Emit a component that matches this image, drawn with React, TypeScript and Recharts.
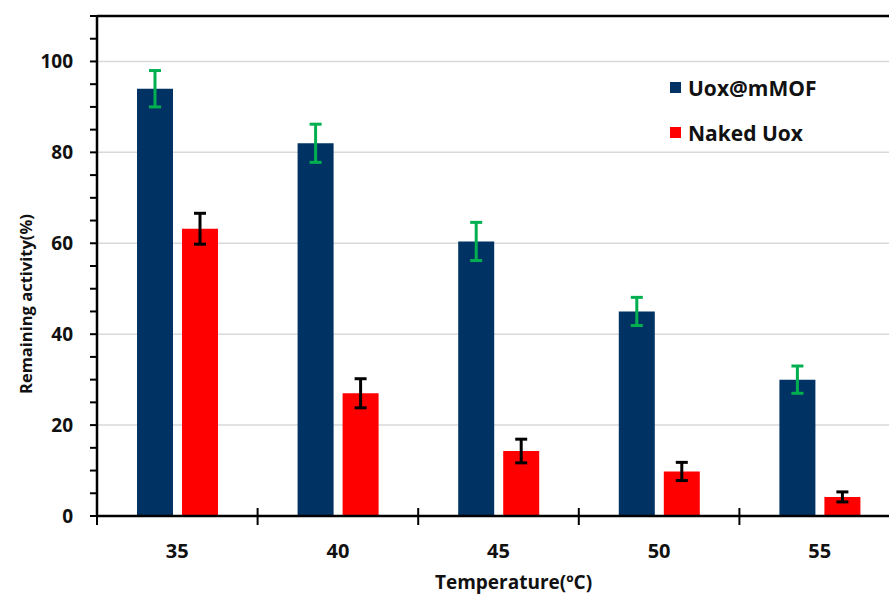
import React from 'react';
import { BarChart, Bar, XAxis, YAxis, ErrorBar, ReferenceLine, CartesianGrid } from 'recharts';

const temperatures = ['35', '40', '45', '50', '55'];
const mofValues = [94, 82, 60.4, 45, 30];
const mofErrors = [4, 4.2, 4.2, 3.1, 3];
const nakedValues = [63.2, 27, 14.3, 9.8, 4.2];
const nakedErrors = [3.4, 3.2, 2.6, 2, 1.1];
const yTicks = [0, 5, 10, 15, 20, 25, 30, 35, 40, 45, 50, 55, 60, 65, 70, 75, 80, 85, 90, 95, 100, 105, 110];
const yLabelTicks = [0, 20, 40, 60, 80, 100];
const gridValues = [20, 40, 60, 80, 100];

const seriesNames = ['Uox@mMOF', 'Naked Uox'];
const colors = ['#003264', '#ff0000'];

const data = temperatures.map((t, i) => ({
  temp: t,
  mof: mofValues[i],
  mofErr: mofErrors[i],
  naked: nakedValues[i],
  nakedErr: nakedErrors[i],
}));

const FONT = '"Open Sans", sans-serif';

const YTick = (props: any) => {
  const { x, y, payload } = props;
  if (!yLabelTicks.includes(payload.value)) return null;
  return (
    <text x={x} y={y} textAnchor="end" dominantBaseline="central" fontFamily={FONT} fontWeight={700} fontSize={19} fill="#111">
      {payload.value}
    </text>
  );
};

const XTick = (props: any) => {
  const { x, y, payload, index } = props;
  const off = payload.offset ?? 0;
  return (
    <g>
      <line x1={x - off} x2={x - off} y1={y - 8} y2={y + 9} stroke="#000" strokeWidth={2} />
      {index === temperatures.length - 1 && (
        <line x1={x + off} x2={x + off} y1={y - 8} y2={y + 9} stroke="#000" strokeWidth={2} />
      )}
      <text x={x} y={y + 34} textAnchor="middle" dominantBaseline="central" fontFamily={FONT} fontWeight={700} fontSize={20} fill="#111">
        {payload.value}
      </text>
    </g>
  );
};

const LegendBox = () => (
  <g>
    {seriesNames.map((n, i) => (
      <g key={n}>
        <rect x={670} y={82 + i * 45} width={11} height={11} fill={colors[i]} />
        <text x={688} y={88 + i * 45} dominantBaseline="central" fontFamily={FONT} fontWeight={700} fontSize={21} fill="#111">
          {n}
        </text>
      </g>
    ))}
  </g>
);

export default function App() {
  return (
    <div style={{ position: 'fixed', left: 0, top: 0, width: 889, height: 597, overflow: 'hidden', background: '#fff' }}>
      <BarChart
        width={900}
        height={597}
        data={data}
        margin={{ top: 16, right: 0, left: 0, bottom: 0 }}
        barGap={9}
      >
        <CartesianGrid vertical={false} horizontalValues={gridValues} stroke="#d9d9d9" strokeWidth={1.5} />
        <ReferenceLine y={110} stroke="#000" strokeWidth={2.5} />
        <XAxis
          dataKey="temp"
          height={81}
          axisLine={{ stroke: '#000', strokeWidth: 2.5 }}
          tickLine={false}
          tickSize={0}
          tickMargin={0}
          tick={<XTick />}
          interval={0}
          label={{
            value: 'Temperature(ºC)',
            position: 'insideBottom',
            offset: 8,
            dx: 15,
            fontFamily: FONT,
            fontWeight: 700,
            fontSize: 19,
            fill: '#111',
          }}
        />
        <YAxis
          width={97}
          domain={[0, 110]}
          ticks={yTicks}
          interval={0}
          allowDataOverflow
          axisLine={{ stroke: '#000', strokeWidth: 2.5 }}
          tickLine={{ stroke: '#000', strokeWidth: 2 }}
          tickSize={7}
          tickMargin={17}
          tick={<YTick />}
          label={{
            value: 'Remaining activity(%)',
            angle: -90,
            position: 'insideLeft',
            offset: 26,
            dy: 128,
            fontFamily: FONT,
            fontWeight: 700,
            fontSize: 16.5,
            fill: '#111',
          }}
        />
        <Bar dataKey="mof" name={seriesNames[0]} fill={colors[0]} barSize={36} isAnimationActive={false}>
          <ErrorBar dataKey="mofErr" width={6} stroke="#00b050" strokeWidth={3} direction="y" />
        </Bar>
        <Bar dataKey="naked" name={seriesNames[1]} fill={colors[1]} barSize={36} isAnimationActive={false}>
          <ErrorBar dataKey="nakedErr" width={6} stroke="#000" strokeWidth={3} direction="y" />
        </Bar>
        <LegendBox />
      </BarChart>
    </div>
  );
}
